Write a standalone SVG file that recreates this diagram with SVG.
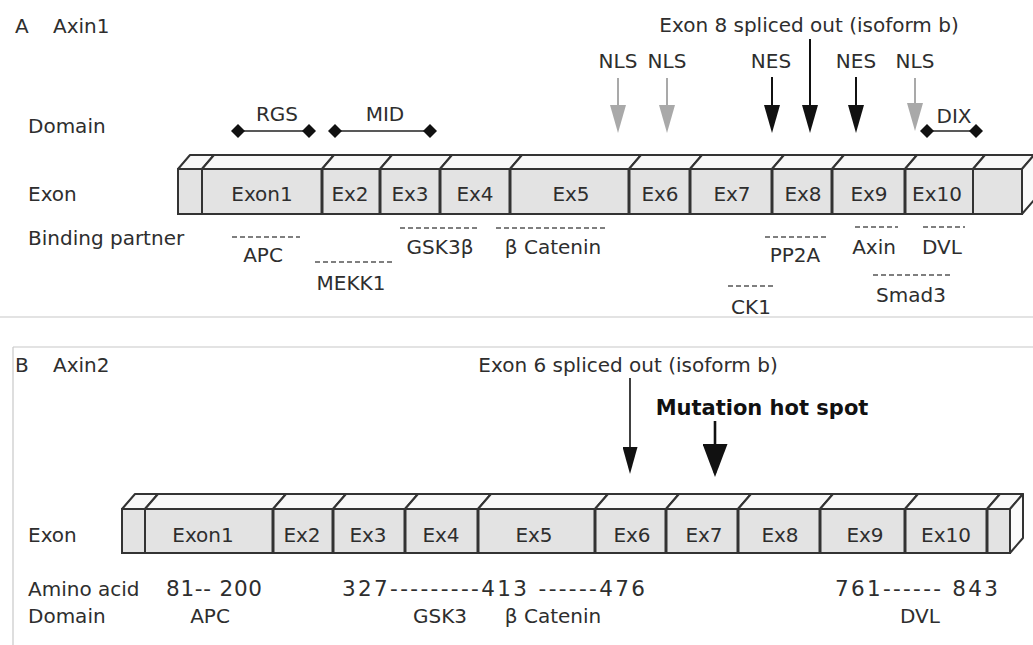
<svg xmlns="http://www.w3.org/2000/svg" width="1033" height="645" viewBox="0 0 1033 645">
<style>
.t{font-family:"DejaVu Sans",sans-serif;font-size:20px;fill:#2e2e2e}
.m{text-anchor:middle}
.n{font-size:21.5px}
.b{font-weight:bold;fill:#111;font-size:21px}
.face{fill:#e3e3e3;stroke:#333;stroke-width:2}
.top{fill:#f8f8f8;stroke:#333;stroke-width:2;stroke-linejoin:round}
.side{fill:#fafafa;stroke:#333;stroke-width:2;stroke-linejoin:round}
.div{stroke:#333;stroke-width:3}
.dash{stroke:#555;stroke-width:1.6;stroke-dasharray:5 3;fill:none}
.dl{stroke:#222;stroke-width:1.6}
.ak{stroke:#111;stroke-width:2}
.ag{stroke:#a9a9a9;stroke-width:2}
.sep{stroke:#c8c8c8;stroke-width:1.2}
</style>
<defs>
<marker id="hk" markerUnits="userSpaceOnUse" viewBox="0 0 28 16" refX="24" refY="8" markerWidth="28" markerHeight="16" orient="auto"><path d="M0,0 L28,8 L0,16 z" fill="#111"/></marker>
<marker id="hg" markerUnits="userSpaceOnUse" viewBox="0 0 28 16" refX="24" refY="8" markerWidth="28" markerHeight="16" orient="auto"><path d="M0,0 L28,8 L0,16 z" fill="#a9a9a9"/></marker>
<marker id="hs" markerUnits="userSpaceOnUse" viewBox="0 0 27 15" refX="23" refY="7.5" markerWidth="27" markerHeight="15" orient="auto"><path d="M0,0 L27,7.5 L0,15 z" fill="#111"/></marker>
<marker id="hb" markerUnits="userSpaceOnUse" viewBox="0 0 33 25" refX="29" refY="12.5" markerWidth="33" markerHeight="25" orient="auto"><path d="M0,0 L33,12.5 L0,25 z" fill="#111"/></marker>
<polygon id="dia" points="-7,0 0,-7 7,0 0,7" fill="#111"/>
</defs>
<rect width="1033" height="645" fill="#fff"/>

<g id="panel-lines">
<line class="sep" x1="0" y1="317" x2="1033" y2="317"/>
<line class="sep" x1="13" y1="347" x2="1033" y2="347"/>
<line class="sep" x1="13" y1="347" x2="13" y2="645" stroke="#e0e0e0"/>
</g>

<!-- Panel A -->
<g id="titleA"><text class="t" x="15" y="33">A</text><text class="t" x="53" y="33">Axin1</text></g>
<g id="rowlabelsA">
<text class="t" x="28" y="133">Domain</text>
<text class="t" x="28" y="201">Exon</text>
<text class="t" x="28" y="245">Binding partner</text>
</g>

<g id="domainsA">
<g id="RGS"><line class="dl" x1="238" y1="131" x2="309" y2="131"/><use href="#dia" x="238" y="131"/><use href="#dia" x="309" y="131"/><text class="t m" x="277" y="121">RGS</text></g>
<g id="MID"><line class="dl" x1="335" y1="131" x2="430" y2="131"/><use href="#dia" x="335" y="131"/><use href="#dia" x="430" y="131"/><text class="t m" x="385" y="121">MID</text></g>
<g id="DIX"><line class="dl" x1="927" y1="131" x2="976" y2="131"/><use href="#dia" x="927" y="131"/><use href="#dia" x="976" y="131"/><text class="t m" x="954" y="123">DIX</text></g>
</g>

<g id="barA">
<g id="A-cap-left"><polygon class="top" points="178,169 190,155 214,155 202,169"/><rect class="face" x="178" y="169" width="24" height="45"/></g>
<g id="A-exon1"><polygon class="top" points="202,169 214,155 334,155 322,169"/><rect class="face" x="202" y="169" width="120" height="45"/><text class="t m" x="262" y="201">Exon1</text></g>
<g id="A-ex2"><polygon class="top" points="322,169 334,155 392,155 380,169"/><rect class="face" x="322" y="169" width="58" height="45"/><text class="t m" x="350" y="201">Ex2</text></g>
<g id="A-ex3"><polygon class="top" points="380,169 392,155 452,155 440,169"/><rect class="face" x="380" y="169" width="60" height="45"/><text class="t m" x="410" y="201">Ex3</text></g>
<g id="A-ex4"><polygon class="top" points="440,169 452,155 522,155 510,169"/><rect class="face" x="440" y="169" width="70" height="45"/><text class="t m" x="475" y="201">Ex4</text></g>
<g id="A-ex5"><polygon class="top" points="510,169 522,155 641,155 629,169"/><rect class="face" x="510" y="169" width="119" height="45"/><text class="t m" x="571" y="201">Ex5</text></g>
<g id="A-ex6"><polygon class="top" points="629,169 641,155 702,155 690,169"/><rect class="face" x="629" y="169" width="61" height="45"/><text class="t m" x="660" y="201">Ex6</text></g>
<g id="A-ex7"><polygon class="top" points="690,169 702,155 784,155 772,169"/><rect class="face" x="690" y="169" width="82" height="45"/><text class="t m" x="732" y="201">Ex7</text></g>
<g id="A-ex8"><polygon class="top" points="772,169 784,155 844,155 832,169"/><rect class="face" x="772" y="169" width="60" height="45"/><text class="t m" x="803" y="201">Ex8</text></g>
<g id="A-ex9"><polygon class="top" points="832,169 844,155 917,155 905,169"/><rect class="face" x="832" y="169" width="73" height="45"/><text class="t m" x="869" y="201">Ex9</text></g>
<g id="A-ex10"><polygon class="top" points="905,169 917,155 985,155 973,169"/><rect class="face" x="905" y="169" width="68" height="45"/><text class="t m" x="937" y="201">Ex10</text></g>
<g id="A-cap-right"><polygon class="top" points="973,169 985,155 1034,155 1022,169"/><rect class="face" x="973" y="169" width="49" height="45"/><polygon class="side" points="1022,169 1034,155 1034,200 1022,214"/></g>
<g id="A-dividers">
<line class="div" x1="322" y1="169" x2="322" y2="214"/><line class="div" x1="380" y1="169" x2="380" y2="214"/><line class="div" x1="440" y1="169" x2="440" y2="214"/><line class="div" x1="510" y1="169" x2="510" y2="214"/><line class="div" x1="629" y1="169" x2="629" y2="214"/><line class="div" x1="690" y1="169" x2="690" y2="214"/><line class="div" x1="772" y1="169" x2="772" y2="214"/><line class="div" x1="832" y1="169" x2="832" y2="214"/><line class="div" x1="905" y1="169" x2="905" y2="214"/>
</g>
</g>

<g id="connectorsA">
<line class="ag" x1="618" y1="78" x2="618" y2="129" marker-end="url(#hg)"/>
<line class="ag" x1="667" y1="78" x2="667" y2="129" marker-end="url(#hg)"/>
<line class="ak" x1="772" y1="77" x2="772" y2="129" marker-end="url(#hk)"/>
<line class="ak" x1="810" y1="39" x2="810" y2="129" marker-end="url(#hk)"/>
<line class="ak" x1="856" y1="77" x2="856" y2="129" marker-end="url(#hk)"/>
<line class="ag" x1="915" y1="78" x2="915" y2="127" marker-end="url(#hg)"/>
</g>
<g id="signalsA">
<text class="t m" x="809" y="32">Exon 8 spliced out (isoform b)</text>
<text class="t m" x="618" y="68">NLS</text>
<text class="t m" x="667" y="68">NLS</text>
<text class="t m" x="771" y="68">NES</text>
<text class="t m" x="856" y="68">NES</text>
<text class="t m" x="915" y="68">NLS</text>
</g>

<g id="partnersA">
<g id="APC"><line class="dash" x1="232" y1="237" x2="300" y2="237"/><text class="t m" x="263" y="262">APC</text></g>
<g id="MEKK1"><line class="dash" x1="315" y1="262" x2="392" y2="262"/><text class="t m" x="351" y="290">MEKK1</text></g>
<g id="GSK3b"><line class="dash" x1="400" y1="228" x2="478" y2="228"/><text class="t m" x="440" y="254">GSK3β</text></g>
<g id="bCatenin"><line class="dash" x1="496" y1="228" x2="608" y2="228"/><text class="t m" x="553" y="254">β Catenin</text></g>
<g id="PP2A"><line class="dash" x1="765" y1="237" x2="828" y2="237"/><text class="t m" x="795" y="262">PP2A</text></g>
<g id="Axin"><line class="dash" x1="855" y1="227" x2="898" y2="227"/><text class="t m" x="874" y="254">Axin</text></g>
<g id="DVL"><line class="dash" x1="923" y1="227" x2="965" y2="227"/><text class="t m" x="942" y="254">DVL</text></g>
<g id="Smad3"><line class="dash" x1="873" y1="275" x2="950" y2="275"/><text class="t m" x="911" y="302">Smad3</text></g>
<g id="CK1"><line class="dash" x1="728" y1="286" x2="773" y2="286"/><text class="t m" x="751" y="314">CK1</text></g>
</g>

<!-- Panel B -->
<g id="titleB"><text class="t" x="15" y="372">B</text><text class="t" x="53" y="372">Axin2</text></g>
<g id="rowlabelsB">
<text class="t" x="28" y="542">Exon</text>
<text class="t" x="28" y="596">Amino acid</text>
<text class="t" x="28" y="623">Domain</text>
</g>

<g id="barB">
<g id="B-cap-left"><polygon class="top" points="122,509 135,494 158,494 145,509"/><rect class="face" x="122" y="509" width="23" height="44"/></g>
<g id="B-exon1"><polygon class="top" points="145,509 158,494 286,494 273,509"/><rect class="face" x="145" y="509" width="128" height="44"/><text class="t m" x="203" y="542">Exon1</text></g>
<g id="B-ex2"><polygon class="top" points="273,509 286,494 346,494 333,509"/><rect class="face" x="273" y="509" width="60" height="44"/><text class="t m" x="302" y="542">Ex2</text></g>
<g id="B-ex3"><polygon class="top" points="333,509 346,494 418,494 405,509"/><rect class="face" x="333" y="509" width="72" height="44"/><text class="t m" x="368" y="542">Ex3</text></g>
<g id="B-ex4"><polygon class="top" points="405,509 418,494 491,494 478,509"/><rect class="face" x="405" y="509" width="73" height="44"/><text class="t m" x="441" y="542">Ex4</text></g>
<g id="B-ex5"><polygon class="top" points="478,509 491,494 608,494 595,509"/><rect class="face" x="478" y="509" width="117" height="44"/><text class="t m" x="534" y="542">Ex5</text></g>
<g id="B-ex6"><polygon class="top" points="595,509 608,494 679,494 666,509"/><rect class="face" x="595" y="509" width="71" height="44"/><text class="t m" x="632" y="542">Ex6</text></g>
<g id="B-ex7"><polygon class="top" points="666,509 679,494 751,494 738,509"/><rect class="face" x="666" y="509" width="72" height="44"/><text class="t m" x="704" y="542">Ex7</text></g>
<g id="B-ex8"><polygon class="top" points="738,509 751,494 833,494 820,509"/><rect class="face" x="738" y="509" width="82" height="44"/><text class="t m" x="780" y="542">Ex8</text></g>
<g id="B-ex9"><polygon class="top" points="820,509 833,494 918,494 905,509"/><rect class="face" x="820" y="509" width="85" height="44"/><text class="t m" x="865" y="542">Ex9</text></g>
<g id="B-ex10"><polygon class="top" points="905,509 918,494 1000,494 987,509"/><rect class="face" x="905" y="509" width="82" height="44"/><text class="t m" x="946" y="542">Ex10</text></g>
<g id="B-cap-right"><polygon class="top" points="987,509 1000,494 1023,494 1010,509"/><rect class="face" x="987" y="509" width="23" height="44"/><polygon class="side" points="1010,509 1023,494 1023,538 1010,553"/></g>
<g id="B-dividers">
<line class="div" x1="273" y1="509" x2="273" y2="553"/><line class="div" x1="333" y1="509" x2="333" y2="553"/><line class="div" x1="405" y1="509" x2="405" y2="553"/><line class="div" x1="478" y1="509" x2="478" y2="553"/><line class="div" x1="595" y1="509" x2="595" y2="553"/><line class="div" x1="666" y1="509" x2="666" y2="553"/><line class="div" x1="738" y1="509" x2="738" y2="553"/><line class="div" x1="820" y1="509" x2="820" y2="553"/><line class="div" x1="905" y1="509" x2="905" y2="553"/><line class="div" x1="987" y1="509" x2="987" y2="553"/>
</g>
</g>

<g id="connectorsB">
<line stroke="#111" stroke-width="1.6" x1="630" y1="378" x2="630" y2="470" marker-end="url(#hs)"/>
<line stroke="#111" stroke-width="2.6" x1="715" y1="421" x2="715" y2="473" marker-end="url(#hb)"/>
</g>
<g id="signalsB">
<text class="t m" x="628" y="372">Exon 6 spliced out (isoform b)</text>
<text class="t b m" x="762" y="415">Mutation hot spot</text>
</g>

<g id="aminoB">
<text class="t n" x="166" y="596" textLength="96" lengthAdjust="spacing">81-- 200</text>
<text class="t n" x="342" y="596" textLength="303" lengthAdjust="spacing">327---------413 ------476</text>
<text class="t n" x="835" y="596" textLength="163" lengthAdjust="spacing">761------ 843</text>
<text class="t m" x="210" y="623">APC</text>
<text class="t m" x="440" y="623">GSK3</text>
<text class="t m" x="553" y="623">β Catenin</text>
<text class="t m" x="920" y="623">DVL</text>
</g>
</svg>
